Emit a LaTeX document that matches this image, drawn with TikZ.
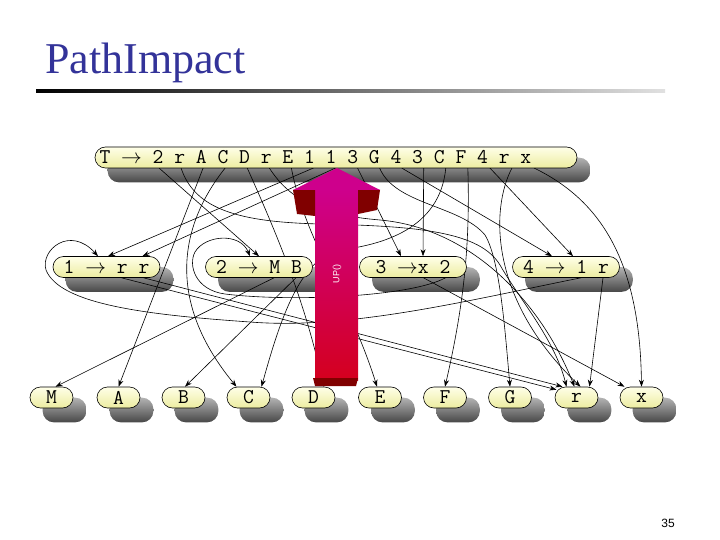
\documentclass[tikz,border=0pt]{standalone}
\usepackage{fontspec}
\usepackage{tikz}
\usetikzlibrary{arrows.meta, positioning}
\newfontfamily\titlefont{Liberation Serif}
\newfontfamily\pagefont{Liberation Sans}
\definecolor{titleblue}{RGB}{51,51,153}
\definecolor{pilltop}{RGB}{255,255,232}
\definecolor{pillbot}{RGB}{236,236,160}
\definecolor{upmag}{RGB}{206,0,140}
\definecolor{upred}{RGB}{212,0,30}
\definecolor{updark}{RGB}{128,0,0}
\pgfdeclarelayer{shade}
\pgfdeclarelayer{wires}
\pgfsetlayers{shade,wires,main}

\begin{document}
\begin{tikzpicture}[x=1pt,y=-1pt,
    pill/.style={draw=black,line width=0.6pt,rounded corners=10.5pt,
                 top color=pilltop,bottom color=pillbot,
                 minimum height=21pt,inner sep=0pt,
                 font=\fontsize{21}{21}\selectfont\ttfamily},
    rule/.style={pill,minimum width=107pt},
    leaf/.style={pill,minimum width=43pt},
    ghost/.style={rounded corners=11pt,top color=black!30,bottom color=black!72},
    link/.style={line width=0.6pt,-{Stealth[length=7pt,width=5pt]}}]
  \useasboundingbox (0,0) rectangle (720,540);

  \node[anchor=base west,inner sep=0pt,text=titleblue,
        font=\titlefont\fontsize{44}{44}\selectfont] (title) at (45,74) {PathImpact};
  \shade[left color=black,right color=black!12] (36,89.5) rectangle (665,92.5);

  \node[pill,inner xsep=4.5pt] (prod) at (336,157.5)
    {\makebox[473pt][l]{T $\rightarrow$ 2 r A C D r E 1 1 3 G 4 3 C F 4 r x}};
  \node[rule] (one) at (106.5,267) {1 $\rightarrow$ r r};
  \node[rule] (two) at (259,267) {2 $\rightarrow$ M B};
  \node[rule] (three) at (413,267) {3 $\rightarrow$x 2};
  \node[rule] (four) at (566,267) {4 $\rightarrow$ 1 r};
  \foreach \nm/\px in {M/51.5,A/118.5,B/183.5,C/248.5,D/313.5,
                       E/380,F/445,G/510,r/576.5,x/641.5}
    \node[leaf] (leaf\nm) at (\px,397.5) {\nm};

  \begin{pgfonlayer}{shade}
    \foreach \nm in {prod,one,two,three,four,leafM,leafA,leafB,leafC,
                     leafD,leafE,leafF,leafG,leafr,leafx}
      \shade[ghost] ([shift={(13pt,-11pt)}]\nm.north west)
        rectangle ([shift={(13pt,-14pt)}]\nm.south east);
  \end{pgfonlayer}

  \foreach \nm [count=\k from 0] in {tTwo,tRa,tA,tCa,tD,tRb,tE,tOnea,tOneb,
      tThreea,tG,tFoura,tThreeb,tCb,tF,tFourb,tRc,tX}
    \coordinate (\nm) at ({159+22.06*\k},168);
  \coordinate (oneRa) at ([xshift=15pt]one.south);
  \coordinate (oneRb) at ([xshift=37pt]one.south);
  \coordinate (twoM) at ([xshift=15pt]two.south);
  \coordinate (twoB) at ([xshift=37pt]two.south);
  \coordinate (threeX) at ([xshift=10.5pt]three.south);
  \coordinate (threeTwo) at ([xshift=32.5pt]three.south);
  \coordinate (fourOne) at ([xshift=15pt]four.south);
  \coordinate (fourR) at ([xshift=37pt]four.south);

  \begin{pgfonlayer}{wires}
    \draw[link] (tTwo) -- (two.north);
    \draw[link] (tRa) .. controls (195,210) and (240,222) .. (320,224)
      .. controls (420,226) and (480,232) .. (500,265)
      .. controls (520,300) and (555,340) .. ([xshift=-10pt]leafr.north);
    \draw[link] (tA) -- (leafA.north);
    \draw[link] (tCa) .. controls (180,225) and (165,300) .. ([xshift=-12pt]leafC.north);
    \draw[link] (tD) .. controls (275,230) and (305,300) .. ([xshift=10pt]leafD.north);
    \draw[link] (tRb) .. controls (290,200) and (320,215) .. (380,220)
      .. controls (470,228) and (540,300) .. ([xshift=-2pt]leafr.north);
    \draw[link] (tE) .. controls (305,240) and (350,300) .. ([xshift=-3pt]leafE.north);
    \draw[link] (tOnea) -- ([xshift=1.5pt]one.north);
    \draw[link] (tOneb) -- ([xshift=36pt]one.north);
    \draw[link] (tThreea) -- ([xshift=-12pt]three.north);
    \draw[link] (tG) .. controls (395,205) and (460,205) .. (485,235)
      .. controls (500,260) and (505,330) .. (leafG.north);
    \draw[link] (tFoura) -- ([xshift=-14pt]four.north);
    \draw[link] (tThreeb) -- ([xshift=10pt]three.north);
    \draw[link] (tCb) .. controls (440,230) and (380,245) .. (340,250)
      .. controls (300,258) and (280,320) .. ([xshift=13pt]leafC.north);
    \draw[link] (tF) .. controls (470,240) and (465,300) .. (leafF.north);
    \draw[link] (tFourb) -- ([xshift=7pt]four.north);
    \draw[link] (tRc) .. controls (490,210) and (490,300) .. ([xshift=4pt]leafr.north);
    \draw[link] (tX) .. controls (600,200) and (640,260) .. (leafx.north);
    \draw[link] (oneRa) -- ([xshift=-20pt,yshift=-3pt]leafr.north);
    \draw[link] (oneRb) -- ([xshift=-14pt]leafr.north);
    \draw[link] (twoM) -- ([xshift=4pt]leafM.north);
    \draw[link] (twoB) -- ([xshift=1.5pt]leafB.north);
    \draw[link] (threeX) -- ([xshift=-17pt]leafx.north);
    \draw[link] (threeTwo) .. controls (410,297) and (290,302) .. (225,294)
      .. controls (195,290) and (188,265) .. (195,252)
      .. controls (205,235) and (240,232) .. ([xshift=-9pt]two.north);
    \draw[link] (fourOne) .. controls (470,300) and (350,330) .. (250,322)
      .. controls (150,315) and (60,305) .. (46,270)
      .. controls (40,250) and (70,225) .. ([xshift=-8.5pt]one.north);
    \draw[link] (fourR) -- ([xshift=13pt]leafr.north);
  \end{pgfonlayer}

  \shade[top color=upmag,bottom color=upred] (315,190) rectangle (358,380);
  \fill[updark] (313,378) -- (358,378) -- (356,386) -- (315,386) -- cycle;
  \fill[updark] (293,190) -- (315,190) -- (315,216) -- (297,214) -- cycle;
  \fill[updark] (358,190) -- (380,190) -- (377,210) -- (358,214) -- cycle;
  \fill[upmag] (293,190) -- (337,168) -- (380,190) -- cycle;
  \node[rotate=90,text=white,font=\pagefont\fontsize{9}{9}\selectfont]
    (uplabel) at (337,274) {UP()};

  \node[font=\pagefont\fontsize{12}{12}\selectfont] (pageno) at (668,523) {35};
\end{tikzpicture}
\end{document}
